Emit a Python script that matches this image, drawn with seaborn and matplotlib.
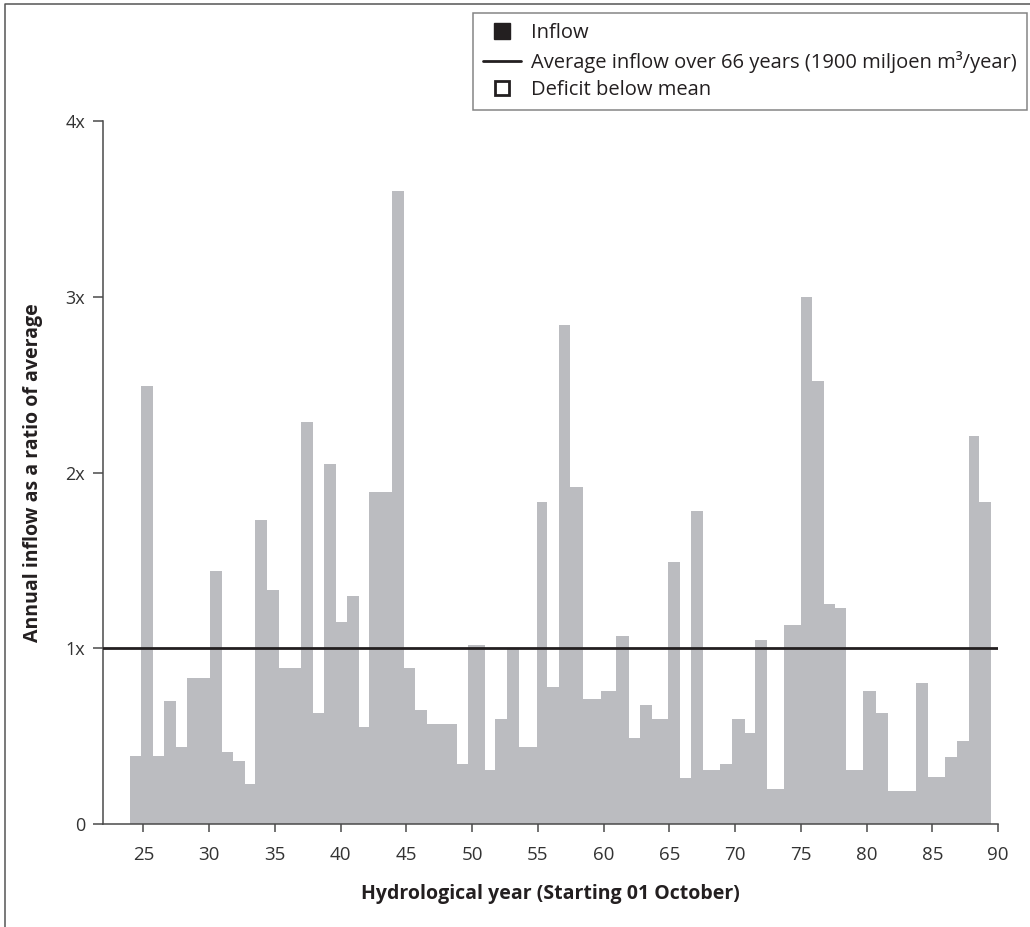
import numpy as np
import pandas as pd
import matplotlib.pyplot as plt
import seaborn as sns
from matplotlib.lines import Line2D

year_start = [24.0, 24.82, 25.71, 26.57, 27.46, 28.32, 30.06, 30.97, 31.81, 32.72,
              33.48, 34.39, 35.30, 36.97, 37.89, 38.75, 39.63, 40.47, 41.38, 42.14,
              43.88, 44.80, 45.69, 46.55, 48.84, 49.68, 50.98, 51.74, 52.66, 53.58,
              54.90, 55.71, 56.58, 57.47, 58.46, 59.78, 60.98, 61.90, 62.74, 63.65,
              64.90, 65.79, 66.62, 67.54, 68.83, 69.75, 70.74, 71.50, 72.41, 73.73,
              75.00, 75.84, 76.75, 77.59, 78.43, 79.72, 80.71, 81.62, 83.76, 84.67,
              85.96, 86.88, 87.79, 88.55]
year_end = 89.47

# Annual inflow as ratio of the 66-year average
ratio = [0.39, 2.49, 0.39, 0.70, 0.44, 0.83, 1.44, 0.41, 0.36, 0.23,
         1.73, 1.33, 0.89, 2.29, 0.63, 2.05, 1.15, 1.30, 0.55, 1.89,
         3.60, 0.89, 0.65, 0.57, 0.34, 1.02, 0.31, 0.60, 1.00, 0.44,
         1.83, 0.78, 2.84, 1.92, 0.71, 0.76, 1.07, 0.49, 0.68, 0.60,
         1.49, 0.26, 1.78, 0.31, 0.34, 0.60, 0.52, 1.05, 0.20, 1.13,
         3.00, 2.52, 1.25, 1.23, 0.31, 0.76, 0.63, 0.19, 0.80, 0.27,
         0.38, 0.47, 2.21, 1.83]

x_ticks = [25, 30, 35, 40, 45, 50, 55, 60, 65, 70, 75, 80, 85, 90]
y_ticks = [0, 1, 2, 3, 4]
y_labels = ['0', '1x', '2x', '3x', '4x']
mean_ratio = 1.0

df = pd.DataFrame({'year': year_start, 'ratio': ratio})
edges = np.append(year_start, year_end)
df['span'] = np.diff(edges)

sns.set_theme(style='ticks')
plt.rcParams['font.family'] = ['Open Sans', 'DejaVu Sans']
dark = '#231f20'
axis_col = '#4a4a4a'

fig = plt.figure(figsize=(10.3, 9.27), dpi=100)
ax = fig.add_axes([0.1, 0.111, 0.869, 0.7585])

ax.bar(df['year'], df['ratio'], width=df['span'], align='edge',
       color='#bbbcc0', linewidth=0, zorder=2)
ax.axhline(mean_ratio, color=dark, lw=2, zorder=3)

ax.set_xlim(21.93, 90)
ax.set_ylim(0, 4)
ax.set_xticks(x_ticks)
ax.set_yticks(y_ticks)
ax.set_yticklabels(y_labels)
ax.tick_params(axis='x', length=6, width=1.1, color=axis_col, pad=10,
               labelsize=13.5, labelcolor='#333333')
ax.tick_params(axis='y', length=7, width=1.1, color=axis_col, pad=6,
               labelsize=13, labelcolor='#333333')
sns.despine(ax=ax)
for s in ['left', 'bottom']:
    ax.spines[s].set_color(axis_col)
    ax.spines[s].set_linewidth(1.1)

ax.set_xlabel('Hydrological year (Starting 01 October)', fontsize=14,
              fontweight='bold', color=dark)
ax.set_ylabel('Annual inflow as a ratio of average', fontsize=14,
              fontweight='bold', color=dark)
ax.xaxis.set_label_coords(0.5, -0.085)
ax.yaxis.set_label_coords(-0.067, 0.5)

handles = [
    Line2D([], [], marker='s', linestyle='none', markersize=11,
           markerfacecolor=dark, markeredgecolor=dark),
    Line2D([], [], color=dark, lw=2),
    Line2D([], [], marker='s', linestyle='none', markersize=10,
           markerfacecolor='white', markeredgecolor=dark, markeredgewidth=2),
]
labels = ['Inflow', 'Average inflow over 66 years (1900 miljoen m³/year)',
          'Deficit below mean']
leg = fig.legend(handles, labels, loc='upper right',
                 bbox_to_anchor=(1027 / 1030, 1 - 13 / 927),
                 bbox_transform=fig.transFigure, fontsize=14.5, frameon=True,
                 fancybox=False, handlelength=1.9, handletextpad=0.5,
                 borderpad=0.5, labelspacing=0.38, borderaxespad=0)
leg.get_frame().set_edgecolor('#666666')
leg.get_frame().set_linewidth(1.1)
for t in leg.get_texts():
    t.set_color(dark)

# page border (top and left edge)
fig.add_artist(Line2D([5 / 1030, 5 / 1030, 1], [0, 1 - 4 / 927, 1 - 4 / 927],
                      transform=fig.transFigure, color='#555555', lw=1.1))

fig.savefig('out.png', dpi=100)
